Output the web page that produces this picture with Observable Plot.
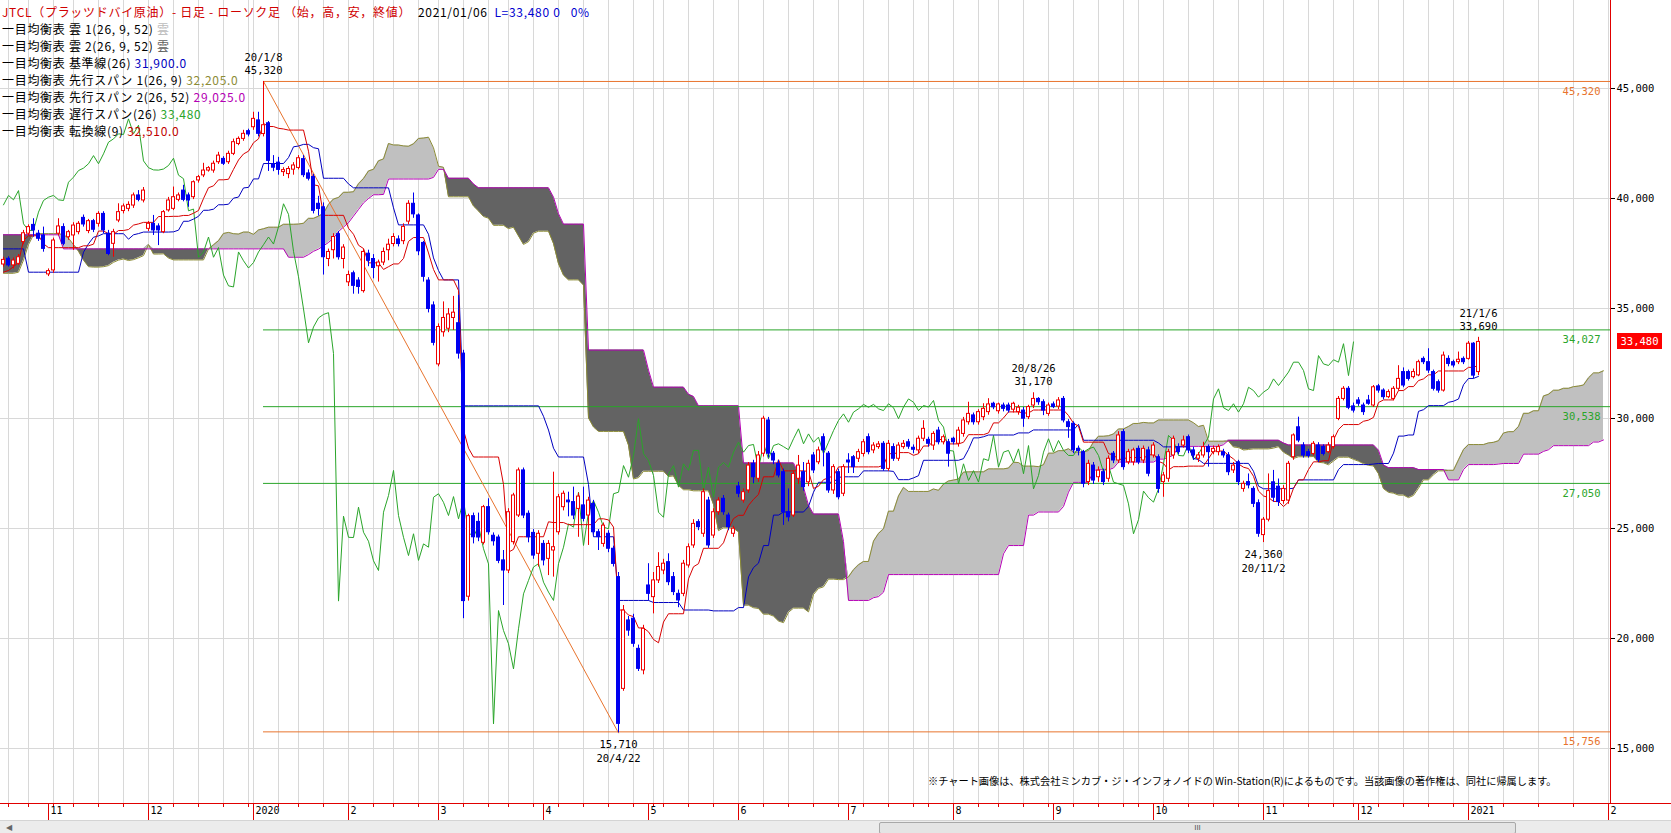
<!DOCTYPE html>
<html><head><meta charset="utf-8">
<script src="https://cdn.jsdelivr.net/npm/d3@7"></script>
<script src="https://cdn.jsdelivr.net/npm/@observablehq/plot@0.6"></script>
<style>
body{margin:0;background:#fff;overflow:hidden}
#wrap{position:relative;width:1671px;height:833px;background:#fff}
#legend{position:absolute;left:2px;top:3px;font:12px/17px "Noto Sans CJK JP",sans-serif;letter-spacing:0.7px;color:#000;white-space:pre;pointer-events:none}
#copy{position:absolute;left:928px;top:774px;font:10.2px/14px "Noto Sans CJK JP",sans-serif;color:#000;white-space:pre}
#last{position:absolute;left:1617px;width:45px;height:16px;background:#ff0000;color:#fff;font:10.5px/16px "DejaVu Sans Mono",monospace;text-align:center}
#axisext{position:absolute;left:1610px;top:803px;width:61px;height:1px;background:#e00000}
#scroll{position:absolute;left:0;top:820px;width:1671px;height:13px;background:#ececec;border-top:1px solid #d4d4d4}
#thumb{position:absolute;left:879px;top:1px;width:635px;height:10px;background:#e4e4e4;border:1px solid #a8a8a8;border-radius:2px;font:8px/10px sans-serif;color:#555;text-align:center}
#arrowL{position:absolute;left:6px;top:1px;font:8px/11px sans-serif;color:#666}
</style>
</head><body><div id="wrap"></div>
<script>
// ---- daily candles (JTCL, from 2019-10-18 to 2021-01-06) ----
const openP = [
37000,37260,36960,37030,38020,38400,38800,38400,38320,36550,
36730,38400,38700,38240,38320,38470,39120,38520,38970,38850,
39300,38400,37940,39000,39430,39530,39680,40140,39910,38620,
38850,38730,38470,39460,39530,39940,40360,40140,40060,40820,
41050,41270,41270,41650,41800,41650,42030,42480,42710,43060,
43240,43550,42930,43420,41550,41630,41200,41110,41310,41390,
41790,41140,40980,39760,39600,37250,37650,38380,37250,36190,
36600,36270,35790,37490,37250,36920,37090,37650,37930,38140,
38060,38950,39760,39230,37980,36270,35140,32460,33920,34080,
34570,34330,32950,21900,25560,25300,24350,25970,24670,24590,
23550,23090,24380,25590,27640,25670,24800,23850,24300,23620,
24000,24830,25970,26270,26200,25890,26050,25590,26120,24830,
24300,24760,24080,22790,17710,20820,20900,19530,18550,22410,
21880,22640,23090,23470,22790,22030,22030,23320,24230,25290,
24760,26270,24680,25740,26350,25590,24760,26910,26270,26730,
27940,27260,28400,29910,28400,27940,27560,25740,25590,27260,
27560,27100,28320,28010,29150,28400,26730,27560,26580,28090,
28240,28170,28390,29150,28550,28700,28850,27710,28700,28170,
28700,28920,28670,28550,29080,29030,28770,29450,28920,28920,
29080,28850,29300,29830,30140,29830,30060,30290,30670,30330,
30590,30590,30400,30290,30360,30060,30590,30890,30740,30210,
30640,30540,30890,29830,29760,28620,28470,27110,27860,27330,
27560,27260,28400,28090,29380,28010,28010,28620,28090,28550,
28320,28240,27110,27260,28320,28700,28770,29150,28550,28170,
28320,28700,28470,28470,28470,28320,27640,28010,26800,27110,
26800,26150,24700,25400,27100,26900,26250,26270,28240,29600,
28770,28470,28390,28770,28700,28470,28700,29980,30890,31350,
30550,30820,30590,30820,30590,31460,31270,30970,30890,31350,
32110,32110,31880,31960,32710,32560,32110,31650,31270,32710,
32560,32560,32710,32710,33400,32110];
const highP = [
37330,37350,37300,37450,38550,38800,39080,38550,38700,36800,
38200,39080,38850,38550,38900,38950,39250,39050,39050,39400,
39400,38550,38600,39760,39750,39850,40250,40360,40500,38950,
39230,38850,39450,40050,40520,40250,40600,40250,40800,41050,
41600,41450,41700,42100,41900,42150,42700,42800,43100,43150,
43920,43920,45320,43500,41950,41870,41400,41450,41630,41950,
41950,41300,41100,40100,39800,37700,38400,38500,37900,36700,
36700,36400,37700,37650,37450,37200,37750,38150,38400,38300,
38850,39900,40250,39300,38050,36400,35300,34300,35300,35000,
35550,35600,33100,25650,25700,25700,26050,26350,24800,24700,
24000,25900,26600,27750,27750,25800,24950,24900,24450,24450,
27560,26550,26700,26650,26880,26600,26880,26420,26280,24950,
25250,24900,24200,23000,21500,21000,21100,19700,20600,23400,
23000,23900,23600,23850,23000,22200,23550,24300,25400,25400,
26800,26420,25900,26400,26500,25700,25100,27100,26800,28000,
28100,28500,30100,30050,28500,28100,27700,26800,27600,28320,
28000,28100,28450,28700,29300,28500,27900,27700,27900,28400,
28320,28600,29050,29300,28900,28950,28950,29000,28850,28900,
29000,29050,28800,29200,29900,29150,29400,29600,29250,29050,
29150,29600,30050,30740,30250,30400,30670,30900,30740,30700,
30700,30700,30740,30600,30500,30600,31170,30950,30850,30700,
30750,30950,31000,29950,29850,28750,28550,28100,28000,27800,
27700,28300,28500,29400,29500,28600,28650,28750,28750,28700,
28900,28350,27550,28600,29200,28850,29200,29250,28700,28450,
28920,28800,28750,28800,28600,28450,28000,28100,27150,27480,
26900,26300,25500,27480,27640,27250,26950,28050,29300,30060,
28900,28600,28950,28900,28800,28900,29250,31000,31450,31450,
30700,30950,30700,31050,31500,31550,31350,31300,31450,32400,
32300,32200,32250,32650,32800,33170,32200,31750,33020,32850,
32650,33020,32800,33500,33450,33690];
const lowP = [
36880,36880,36800,36950,37900,38300,38240,38050,37560,36450,
36600,38300,37850,38100,37640,38350,38700,38400,38450,38700,
38400,37400,37330,38900,39300,39400,39550,39850,39800,38500,
38320,37860,38400,39380,39450,39850,39850,39600,39950,40700,
40950,41200,41150,41550,41500,41550,41950,42400,42600,42800,
43100,42800,42800,41230,41220,41060,41000,40900,41060,41300,
40950,40800,39300,39200,36520,36900,37250,37200,36800,36000,
35650,35650,35700,36900,36350,36200,36950,37170,37800,37800,
37900,38800,39100,37400,36200,34800,33300,32350,33700,33900,
34000,32700,20900,21700,24300,24400,24250,24700,24200,23400,
21500,22950,24250,25500,25450,24350,23600,23250,23300,22860,
22790,24700,25800,25530,25400,24600,25300,24230,24700,24000,
24150,23900,23250,15710,17600,20100,19600,18500,18350,21700,
21120,22500,22900,22400,21950,21400,21900,23200,24100,24900,
24600,24100,24550,25600,25600,24900,24600,26400,26150,26600,
27030,27100,28250,28200,27900,27300,25140,25300,25500,27000,
26700,26900,27500,27900,27800,26600,26550,26300,26450,27500,
27500,28000,28250,28350,28400,28600,27600,27600,28050,28050,
28600,28600,28400,28400,28950,28700,28550,28800,28800,27790,
28800,28700,29150,29700,29700,29700,29900,30150,30400,30200,
30300,30250,30250,30150,29600,29950,30450,30600,30130,30100,
30450,30400,29800,29100,28400,28300,26850,26950,27000,27100,
26950,27100,27950,27950,27650,27900,27850,27900,27950,27350,
28200,26600,26420,27100,28150,28350,28650,28400,28100,28000,
28200,27790,28350,28300,28200,27400,27500,26950,26650,26800,
25950,24600,24360,25300,26200,26000,26100,26100,28100,28900,
28200,28200,28300,28000,28300,28400,28600,29900,30800,30400,
30250,30550,30140,30600,30500,31150,30850,30900,30800,31250,
31400,31700,31800,31900,32450,32050,31250,31150,31200,32350,
32300,32450,32450,32650,31800,31950];
const closeP = [
37210,36960,37180,37330,38420,38700,38550,38170,37710,36700,
38090,38730,37940,38470,38770,38850,38820,38970,38580,39300,
38550,37480,38470,39380,39640,39710,40140,39940,40360,38850,
38550,38550,39380,39910,40060,40140,39940,39910,40740,40970,
41270,41380,41580,41950,41580,42030,42560,42710,42940,42910,
43620,42940,43330,41710,41400,41300,41290,41340,41500,41830,
41060,40900,39440,39520,37330,37570,38250,37330,37770,36520,
36030,35980,37570,37170,36840,37090,37570,37900,38250,37930,
38710,39760,39280,37600,36440,34980,33440,34160,34570,34730,
34810,32950,21700,25560,24600,24590,25970,24830,24420,23530,
23090,25740,26500,27640,25590,24600,23770,24760,23550,24300,
24150,26420,26580,26190,25590,26450,25440,26270,24830,24610,
25130,24080,23390,16120,21270,20360,19760,18620,20440,22030,
22640,23250,23400,22560,22110,21730,23400,24150,25210,25060,
26650,24230,25740,26270,25740,25060,24990,26580,26650,27860,
27330,28320,29990,28400,28090,27410,25740,25510,27480,27860,
26880,27940,27640,28550,28550,26730,27790,26420,27790,28000,
27790,28470,28920,28470,28770,28820,27710,28850,28170,28770,
28850,28720,28580,29080,29530,28850,29300,28920,29150,28400,
28920,29450,29910,30210,29830,30290,30440,30640,30510,30640,
30440,30360,30670,30490,29990,30520,30890,30740,30360,30590,
30520,30820,29910,29610,28550,28520,27030,27940,27180,27630,
27110,28170,28090,29230,27790,28470,28550,28010,28620,27490,
28770,26800,27410,28470,29080,28470,29000,28550,28320,28320,
28700,28470,28620,28700,28320,27560,27860,27110,27030,26960,
26120,24760,25400,26700,26400,26200,26800,27940,29230,29000,
28320,28300,28850,28120,28390,28770,29150,30890,31350,30490,
30360,30670,30290,30670,31420,31270,30970,31200,31350,31800,
31500,31800,32110,32560,32560,32180,31350,31270,32860,32480,
32410,32670,32560,33400,31950,33480];

// ---- Ichimoku values visible at the left edge (earlier history is off-screen) ----
const tenkanEarly = [36650,36730,36900,37100,38100,38300,38300,38320];
const kijunEarly = [37710,37710,37710,37710,37710,36650,36650,36650,36650,36650,
  36650,36650,36650,36650,36650,36650,37560,37940,38240,38300,38400,38400,38400,38400,38400];
const span1Early = [36600,36600,36600,36650,37200,37900,38350,38400,38400,38400,
  38400,38400,38350,38200,37900,37600,37200,36900,36880,36880,36900,36950,37100,37200,37250];
const span2Early = [38350,38350,38350,38350,38350,38350,38350,38350,38350,38350,
  38350,38350,37710,37710,37710,37710,37710,37710,37710,37710,
  37710,37710,37710,37710,37710,37710,37710,37710,37710,37710,
  37710,37710,37710,37710,37710,37710,37710,37710,37710,37710,
  37710,37710,37710,37710,37710,37710,37710,37710,37710,37710,
  37710,37710,37710,37710,37710,37710,37710,37330,37330,37330,
  37330,37450,37600,37700,37850,38000,38200,38500,38700,38900,
  39200,39500,39800,40000,40170,40170];

// ---- calendar / ticks ----
const firstDay = "2019-10-18";
const holidays = ["2019-10-22","2019-11-04","2019-12-31","2020-01-01","2020-01-02","2020-01-03",
  "2020-01-13","2020-02-11","2020-02-24","2020-03-20","2020-04-29","2020-05-04","2020-05-05",
  "2020-05-06","2020-07-23","2020-07-24","2020-08-10","2020-09-21","2020-09-22","2020-11-03",
  "2020-11-23","2020-12-31","2021-01-01"];
const yTicks = [15000,20000,25000,30000,35000,40000,45000];

// retracement levels and labelled extremes
const fibLevels = [45320,34027,30538,27050,15756];
const fibLabels = ["45,320","34,027","30,538","27,050","15,756"];
const notes = [
  {date:"20/1/8", value:"45,320", i:52, v:45320, pos:"above"},
  {date:"20/4/22", value:"15,710", i:123, v:15710, pos:"below"},
  {date:"20/8/26", value:"31,170", i:206, v:31170, pos:"above"},
  {date:"20/11/2", value:"24,360", i:252, v:24360, pos:"below"},
  {date:"21/1/6", value:"33,690", i:295, v:33690, pos:"above"}
];

// ---------------------------------------------------------------
const n = closeP.length;
const shift = 25;
const hol = new Set(holidays);
const dates = [];
{
  let d = new Date(firstDay + "T00:00:00Z");
  while (dates.length < n) {
    const iso = d.toISOString().slice(0,10), w = d.getUTCDay();
    if (w !== 0 && w !== 6 && !hol.has(iso)) dates.push(new Date(d));
    d = new Date(d.getTime() + 86400000);
  }
  const last = dates[n-1];
  for (let k = 1; k <= shift + 1; k++) dates.push(new Date(last.getTime() + k*86400000));
}
const mon = d => (d.getUTCDay() + 6) % 7;
const weekIdx = [], monthTicks = [];
for (let i = 1; i < dates.length; i++) {
  const a = dates[i-1], b = dates[i];
  if (mon(b) < mon(a) || (b - a) >= 7*86400000) weekIdx.push(i);
  if (b.getUTCMonth() !== a.getUTCMonth())
    monthTicks.push({i, label: b.getUTCMonth() === 0 ? String(b.getUTCFullYear()) : String(b.getUTCMonth()+1)});
}
const monthIdx = monthTicks.map(d => d.i);

function mid(i, len) {
  let h = -Infinity, l = Infinity;
  for (let k = i - len + 1; k <= i; k++) { h = Math.max(h, highP[k]); l = Math.min(l, lowP[k]); }
  return (h + l) / 2;
}
const tenkan = d3.range(n).map(i => i < tenkanEarly.length ? tenkanEarly[i] : mid(i, 9));
const kijun = d3.range(n).map(i => i < kijunEarly.length ? kijunEarly[i] : mid(i, 26));
const cloud = d3.range(n + shift).map(j => {
  const s1 = j < span1Early.length ? span1Early[j] : (tenkan[j-shift] + kijun[j-shift]) / 2;
  const s2 = j < span2Early.length ? span2Early[j] : mid(j - shift, 52);
  return {i: j, s1, s2, top: Math.max(s1, s2)};
});
const days = d3.range(n).map(i => ({i, open: openP[i], high: highP[i], low: lowP[i], close: closeP[i], tenkan: tenkan[i], kijun: kijun[i]}));
const chikou = d3.range(shift, n).map(k => ({i: k - shift, v: closeP[k]}));
const up = days.filter(d => d.close >= d.open), down = days.filter(d => d.close < d.open);
const peak = d3.maxIndex(highP), trough = d3.minIndex(lowP);
const xMax = dates.length - 1 + 0.4;
const xDomain = [-0.6, xMax];
const fibs = fibLevels.map((v, k) => ({v, label: fibLabels[k], c: (k === 0 || k === fibLevels.length - 1) ? "#e8742e" : "#2aa52a"}));
const above = notes.filter(d => d.pos === "above"), below = notes.filter(d => d.pos === "below");
const fmt = d3.format(",");
const mono = "'DejaVu Sans Mono', monospace";
const RED = "#e00000";

const plot = Plot.plot({
  width: 1671, height: 833,
  marginLeft: 0, marginRight: 61, marginTop: 0, marginBottom: 30,
  x: {type: "linear", domain: xDomain, axis: null},
  y: {domain: [12500, 49000], axis: null},
  style: {background: "white", fontFamily: mono, fontSize: "10.5px", color: "black"},
  marks: [
    Plot.gridY(yTicks, {stroke: "#d8d8d8", strokeOpacity: 1}),
    Plot.gridX(weekIdx, {stroke: "#d8d8d8", strokeOpacity: 1}),
    // cloud
    Plot.areaY(cloud, {x: "i", y1: "s1", y2: "top", fill: "#636363", curve: "linear"}),
    Plot.areaY(cloud, {x: "i", y1: "s2", y2: "top", fill: "#c0c0c0", curve: "linear"}),
    Plot.line(cloud, {x: "i", y: "s1", stroke: "#8c8c36", strokeWidth: 1}),
    Plot.line(cloud, {x: "i", y: "s2", stroke: "#b400b4", strokeWidth: 1}),
    // retracement lines
    Plot.ruleY(fibs, {y: "v", x1: () => peak, x2: () => xMax, stroke: "c", strokeWidth: 1}),
    Plot.line([{i: peak, v: highP[peak]}, {i: trough, v: lowP[trough]}], {x: "i", y: "v", stroke: "#e8742e", strokeWidth: 1}),
    // lagging span, base line, conversion line
    Plot.line(chikou, {x: "i", y: "v", stroke: "#2aa52a", strokeWidth: 1}),
    Plot.line(days, {x: "i", y: "kijun", stroke: "#0000c0", strokeWidth: 1}),
    Plot.line(days, {x: "i", y: "tenkan", stroke: "#d80000", strokeWidth: 1}),
    // candles
    Plot.ruleX(up, {x: "i", y1: "low", y2: "high", stroke: "#f00000", strokeWidth: 1}),
    Plot.ruleX(down, {x: "i", y1: "low", y2: "high", stroke: "#0000f0", strokeWidth: 1}),
    Plot.rect(up, {x1: d => d.i - 0.3, x2: d => d.i + 0.3, y1: "open", y2: "close", fill: "white", stroke: "#f00000", strokeWidth: 1}),
    Plot.rect(down, {x1: d => d.i - 0.3, x2: d => d.i + 0.3, y1: "open", y2: "close", fill: "#0000f0", stroke: "#0000f0", strokeWidth: 1}),
    // notes
    Plot.text(above, {x: "i", y: "v", text: "value", dy: -11, fontSize: 10.5, fill: "black"}),
    Plot.text(above, {x: "i", y: "v", text: "date", dy: -24, fontSize: 10.5, fill: "black"}),
    Plot.text(below, {x: "i", y: "v", text: "value", dy: 12, fontSize: 10.5, fill: "black"}),
    Plot.text(below, {x: "i", y: "v", text: "date", dy: 26, fontSize: 10.5, fill: "black"}),
    Plot.text(fibs, {y: "v", text: "label", frameAnchor: "right", textAnchor: "end", dx: -10, dy: 10, fill: "c", fontSize: 10.5}),
    // axes
    Plot.ruleX([xMax], {stroke: RED, strokeWidth: 1}),
    Plot.ruleY([12500], {stroke: RED, strokeWidth: 1}),
    Plot.axisY(yTicks, {anchor: "right", tickSize: 4, tickPadding: 2, tickFormat: fmt, stroke: "black", fill: "black", fontSize: 10.5}),
    Plot.axisX(weekIdx, {anchor: "bottom", tickSize: 4, tickFormat: () => "", stroke: RED}),
    Plot.axisX(monthIdx, {anchor: "bottom", tickSize: 17, tickFormat: () => "", stroke: RED}),
    Plot.text(monthTicks, {x: "i", text: "label", frameAnchor: "bottom", textAnchor: "start", dx: 2, dy: 10, fontSize: 10, fill: "black"})
  ]
});

const wrap = document.getElementById("wrap");
wrap.appendChild(plot);

const lastClose = closeP[n-1];
const legend = document.createElement("div");
legend.id = "legend";
legend.innerHTML =
  '<span style="color:#d00000">JTCL（プラッツドバイ原油）- 日足 - ローソク足 （始，高，安，終値）</span>  2021/01/06  <span style="color:#0000d0">L=' + fmt(lastClose) + ' 0   0%</span>\n' +
  '一目均衡表 雲 1(26, 9, 52) <span style="color:#bcbcbc">雲</span>\n' +
  '一目均衡表 雲 2(26, 9, 52) <span style="color:#606060">雲</span>\n' +
  '一目均衡表 基準線(26) <span style="color:#0000c0">31,900.0</span>\n' +
  '一目均衡表 先行スパン 1(26, 9) <span style="color:#8c8c36">32,205.0</span>\n' +
  '一目均衡表 先行スパン 2(26, 52) <span style="color:#b400b4">29,025.0</span>\n' +
  '一目均衡表 遅行スパン(26) <span style="color:#2aa52a">' + fmt(lastClose) + '</span>\n' +
  '一目均衡表 転換線(9) <span style="color:#c00000">32,510.0</span>';
wrap.appendChild(legend);

const box = document.createElement("div");
box.id = "last";
box.textContent = fmt(lastClose);
box.style.top = (plot.scale("y").apply(lastClose) - 8) + "px";
wrap.appendChild(box);

const copy = document.createElement("div");
copy.id = "copy";
copy.textContent = "※チャート画像は、株式会社ミンカブ・ジ・インフォノイドの Win-Station(R)によるものです。当該画像の著作権は、同社に帰属します。";
wrap.appendChild(copy);

const ext = document.createElement("div"); ext.id = "axisext"; wrap.appendChild(ext);
const sc = document.createElement("div"); sc.id = "scroll";
sc.innerHTML = '<div id="arrowL">◀</div><div id="thumb">III</div>';
wrap.appendChild(sc);
</script>
</body></html>
